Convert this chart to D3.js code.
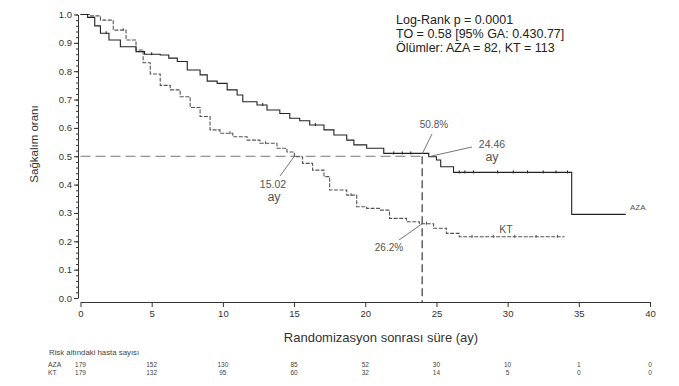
<!DOCTYPE html>
<html>
<head>
<meta charset="utf-8">
<script src="https://cdn.jsdelivr.net/npm/d3@7"></script>
<style>
  body { margin: 0; background: #fff; }
  svg { font-family: "Liberation Sans", Arial, sans-serif; }
</style>
</head>
<body>
<svg></svg>
<script>
// Kaplan-Meier step data (time in months, survival)
const azaTimes = [0, 0.5, 1.0, 1.4, 2.0, 2.8, 3.9, 4.5, 5.6, 6.2, 6.8, 7.5, 8.4, 8.9, 9.6, 10.3, 11.0, 11.4, 12.4, 13.1, 14.0, 14.7, 15.4, 16.1, 17.1, 17.8, 18.7, 19.2, 20.1, 21.3, 24.46, 25.0, 25.3, 26.2, 34.5, 38.3];
const azaSurv  = [1.0, 0.99, 0.96, 0.934, 0.91, 0.886, 0.869, 0.86, 0.857, 0.846, 0.834, 0.804, 0.787, 0.765, 0.757, 0.734, 0.716, 0.692, 0.681, 0.663, 0.651, 0.634, 0.625, 0.61, 0.593, 0.575, 0.557, 0.54, 0.528, 0.51, 0.498, 0.487, 0.463, 0.443, 0.295, 0.295];
const ktTimes  = [0, 0.7, 1.4, 2.3, 3.2, 3.9, 4.4, 4.9, 5.6, 6.3, 7.0, 7.7, 8.4, 9.1, 9.8, 10.7, 11.7, 12.6, 13.8, 14.5, 15.02, 15.6, 16.3, 17.1, 17.5, 18.7, 19.4, 20.1, 21.0, 21.7, 22.9, 23.8, 24.8, 25.7, 26.6, 34.0];
const ktSurv   = [1.0, 0.995, 0.98, 0.945, 0.91, 0.875, 0.83, 0.79, 0.75, 0.734, 0.71, 0.672, 0.64, 0.593, 0.581, 0.569, 0.557, 0.546, 0.528, 0.515, 0.498, 0.475, 0.451, 0.428, 0.381, 0.363, 0.322, 0.316, 0.31, 0.281, 0.269, 0.262, 0.246, 0.228, 0.216, 0.216];
// censoring marks
const azaCensor = [1.8, 5.0, 12.8, 16.5, 22.0, 22.6, 23.2, 26.6, 27.0, 27.6, 29.3, 30.4, 31.4, 32.5, 33.4, 34.2];
const ktCensor  = [3.0, 10.5, 13.0, 19.0, 24.3, 27.5, 29.0, 30.5, 32.0, 33.5];

const xTicks = [0, 5, 10, 15, 20, 25, 30, 35, 40];
const yTicks = [0, 0.1, 0.2, 0.3, 0.4, 0.5, 0.6, 0.7, 0.8, 0.9, 1.0];
const riskAza = [179, 152, 130, 85, 52, 30, 10, 1, 0];
const riskKt  = [179, 132, 95, 60, 32, 14, 5, 0, 0];
const statLines = ["Log-Rank p = 0.0001", "TO = 0.58 [95% GA: 0.430.77]", "Ölümler: AZA = 82, KT = 113"];

const width = 679, height = 386;
const svg = d3.select("svg").attr("width", width).attr("height", height);

const x = d3.scaleLinear().domain([0, 40]).range([80.5, 650]);
const y = d3.scaleLinear().domain([0, 1]).range([298, 14.5]);

// Y axis (offset left a bit), with minor ticks
svg.append("g")
    .attr("transform", "translate(78,0)")
    .call(d3.axisLeft(y).tickValues(d3.range(0, 1.0001, 0.02)).tickSize(2).tickFormat(""))
    .call(g => g.select(".domain").remove())
    .selectAll("line").attr("stroke", "#333");
svg.append("g")
    .attr("transform", "translate(78,0)")
    .call(d3.axisLeft(y).tickValues(yTicks).tickSize(4).tickFormat(d3.format(".1f")).tickSizeOuter(0))
    .call(g => g.select(".domain").attr("stroke", "#333"))
    .call(g => g.selectAll("line").attr("stroke", "#333"))
    .call(g => g.selectAll("text").attr("font-size", 9.5).attr("fill", "#333").attr("x", -6));

// X axis (offset down a bit)
svg.append("g")
    .attr("transform", "translate(0,302)")
    .call(d3.axisBottom(x).tickValues(xTicks).tickSize(5).tickSizeOuter(0))
    .call(g => g.select(".domain").attr("stroke", "#333"))
    .call(g => g.selectAll("line").attr("stroke", "#333"))
    .call(g => g.selectAll("text").attr("font-size", 9.5).attr("fill", "#333").attr("y", 8));

// Axis titles
svg.append("text")
    .attr("x", 381).attr("y", 342)
    .attr("text-anchor", "middle")
    .attr("font-size", 13).attr("fill", "#333")
    .text("Randomizasyon sonrası süre (ay)");
svg.append("text")
    .attr("transform", "translate(38,144) rotate(-90)")
    .attr("text-anchor", "middle")
    .attr("font-size", 11.5).attr("fill", "#333")
    .text("Sağkalım oranı");

// Median reference lines
svg.append("line")
    .attr("x1", x(0)).attr("x2", x(24)).attr("y1", y(0.5)).attr("y2", y(0.5))
    .attr("stroke", "#777").attr("stroke-width", 1.2).attr("stroke-dasharray", "10,5");
svg.append("line")
    .attr("x1", x(24)).attr("x2", x(24)).attr("y1", y(0.5)).attr("y2", 302)
    .attr("stroke", "#555").attr("stroke-width", 1.4).attr("stroke-dasharray", "8,4");

// Survival curves
const line = d3.line().x(d => x(d[0])).y(d => y(d[1])).curve(d3.curveStepAfter);
const azaData = d3.zip(azaTimes, azaSurv);
const ktData = d3.zip(ktTimes, ktSurv);

svg.append("path")
    .datum(ktData)
    .attr("d", line)
    .attr("fill", "none")
    .attr("stroke", "#555")
    .attr("stroke-width", 1.1)
    .attr("stroke-dasharray", "4,1.5");
svg.append("path")
    .datum(azaData)
    .attr("d", line)
    .attr("fill", "none")
    .attr("stroke", "#222")
    .attr("stroke-width", 1.1);

// censor ticks
function survAt(times, surv, t) {
    let s = surv[0];
    for (let i = 0; i < times.length; i++) if (times[i] <= t) s = surv[i];
    return s;
}
svg.append("g").selectAll("line")
    .data(azaCensor)
    .join("line")
    .attr("x1", d => x(d)).attr("x2", d => x(d))
    .attr("y1", d => y(survAt(azaTimes, azaSurv, d)) - 2)
    .attr("y2", d => y(survAt(azaTimes, azaSurv, d)) + 1)
    .attr("stroke", "#222").attr("stroke-width", 1);
svg.append("g").selectAll("line")
    .data(ktCensor)
    .join("line")
    .attr("x1", d => x(d)).attr("x2", d => x(d))
    .attr("y1", d => y(survAt(ktTimes, ktSurv, d)) - 2)
    .attr("y2", d => y(survAt(ktTimes, ktSurv, d)) + 1)
    .attr("stroke", "#555").attr("stroke-width", 1);

// Annotations
const ann = svg.append("g").attr("fill", "#555");
function leader(x1, y1, x2, y2) {
    svg.append("line").attr("x1", x1).attr("y1", y1).attr("x2", x2).attr("y2", y2)
        .attr("stroke", "#666").attr("stroke-width", 0.9);
}
leader(x(24), y(0.508), 432, 134);
ann.append("text").attr("x", 434).attr("y", 128).attr("text-anchor", "middle").attr("font-size", 10).text("50.8%");

leader(x(24.46) + 2, y(0.5), 472, 147);
ann.append("text").attr("x", 492).attr("y", 148).attr("text-anchor", "middle").attr("font-size", 10.5).text("24.46");
ann.append("text").attr("x", 492).attr("y", 161).attr("text-anchor", "middle").attr("font-size", 12.5).text("ay");

leader(x(15.02), y(0.5), 280, 176);
ann.append("text").attr("x", 273).attr("y", 188).attr("text-anchor", "middle").attr("font-size", 10.5).text("15.02");
ann.append("text").attr("x", 274).attr("y", 201).attr("text-anchor", "middle").attr("font-size", 12.5).text("ay");

leader(x(24), y(0.262), 399, 240);
ann.append("text").attr("x", 389).attr("y", 251).attr("text-anchor", "middle").attr("font-size", 10).text("26.2%");

ann.append("text").attr("x", 506).attr("y", 233).attr("text-anchor", "middle").attr("font-size", 10.5).text("KT");
ann.append("text").attr("x", 630).attr("y", 210).attr("font-size", 8).text("AZA");

// Stats block
svg.append("g").selectAll("text")
    .data(statLines)
    .join("text")
    .attr("x", 396)
    .attr("y", (d, i) => 24 + i * 14)
    .attr("font-size", 12.5)
    .attr("fill", "#222")
    .text(d => d);

// Risk table
svg.append("text").attr("x", 49).attr("y", 355).attr("font-size", 7.8).attr("fill", "#444").text("Risk altındaki hasta sayısı");
svg.append("text").attr("x", 48).attr("y", 366.5).attr("font-size", 6.8).attr("fill", "#444").text("AZA");
svg.append("text").attr("x", 48).attr("y", 374.5).attr("font-size", 6.8).attr("fill", "#444").text("KT");
svg.append("g").selectAll("text")
    .data(riskAza)
    .join("text")
    .attr("x", (d, i) => x(xTicks[i]))
    .attr("y", 366.5)
    .attr("text-anchor", "middle").attr("font-size", 6.5).attr("fill", "#444")
    .text(d => d);
svg.append("g").selectAll("text")
    .data(riskKt)
    .join("text")
    .attr("x", (d, i) => x(xTicks[i]))
    .attr("y", 374.5)
    .attr("text-anchor", "middle").attr("font-size", 6.5).attr("fill", "#444")
    .text(d => d);
</script>
</body>
</html>
